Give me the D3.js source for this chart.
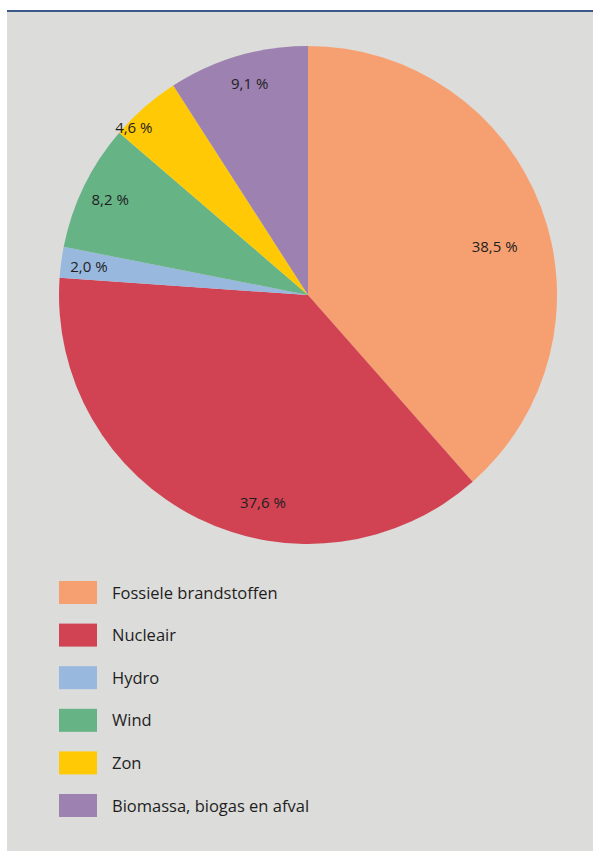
<!DOCTYPE html>
<html>
<head>
<meta charset="utf-8">
<script src="https://cdn.jsdelivr.net/npm/d3@7/dist/d3.min.js"></script>
<style>
  html, body { margin: 0; padding: 0; background: #ffffff; }
  svg { display: block; }
  text { font-family: "Open Sans", "Noto Sans", sans-serif; fill: #1e1e1e; }
</style>
</head>
<body>
<svg id="chart" width="593" height="851"></svg>
<script>
// Energy mix shares (%)
const categories = ["Fossiele brandstoffen", "Nucleair", "Hydro", "Wind", "Zon", "Biomassa, biogas en afval"];
const shares = [38.5, 37.6, 2.0, 8.2, 4.6, 9.1];
const shareLabels = ["38,5 %", "37,6 %", "2,0 %", "8,2 %", "4,6 %", "9,1 %"];
const colors = ["#f6a071", "#d14352", "#99b8de", "#66b386", "#ffca05", "#9c81b1"];

// Label placement: angular nudge (degrees) and radius for each slice label
const labelAngleNudge = [6, -14, 0, 0, -5, 1];
const labelRadius = [193, 212, 221, 220, 242, 220];

const W = 593, H = 851;
const svg = d3.select("#chart");

// Panel background and top rule
svg.append("rect").attr("x", 7).attr("y", 11).attr("width", W - 7).attr("height", H - 11).attr("fill", "#dcdcda");
svg.append("rect").attr("x", 7).attr("y", 10).attr("width", W - 7).attr("height", 2).attr("fill", "#3b5a8a");

const cx = 308, cy = 295, R = 249;
const g = svg.append("g").attr("transform", `translate(${cx},${cy})`);

const pie = d3.pie().sort(null).value(d => d.value);
const arcs = pie(categories.map((c, i) => ({ name: c, value: shares[i], label: shareLabels[i], color: colors[i] })));
const arc = d3.arc().innerRadius(0).outerRadius(R);

g.selectAll("path.slice").data(arcs).join("path")
  .attr("class", "slice")
  .attr("d", arc)
  .attr("fill", d => d.data.color);

const labelAngle = (d, i) => (d.startAngle + d.endAngle) / 2 + labelAngleNudge[i] * Math.PI / 180;

g.selectAll("text.pct").data(arcs).join("text")
  .attr("class", "pct")
  .attr("text-anchor", "middle")
  .attr("dominant-baseline", "central")
  .style("font-size", "15px")
  .attr("x", (d, i) => labelRadius[i] * Math.sin(labelAngle(d, i)))
  .attr("y", (d, i) => -labelRadius[i] * Math.cos(labelAngle(d, i)))
  .text(d => d.data.label);

// Legend
const legendY = d3.scalePoint().domain(categories).range([581, 794]);
const legend = svg.append("g").selectAll("g").data(categories).join("g")
  .attr("transform", d => `translate(59,${legendY(d)})`);
legend.append("rect").attr("width", 38).attr("height", 23).attr("fill", (d, i) => colors[i]);
legend.append("text").attr("x", 53).attr("y", 17.5).style("font-size", "16.5px").text(d => d);
</script>
</body>
</html>
